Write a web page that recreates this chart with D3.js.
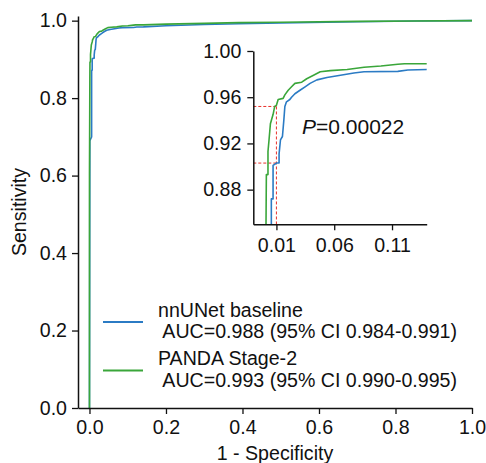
<!DOCTYPE html>
<html>
<head>
<meta charset="utf-8">
<script src="https://cdn.jsdelivr.net/npm/d3@7"></script>
<style>
  body { margin: 0; background: #fff; }
  svg text { font-family: "Liberation Sans", Arial, sans-serif; fill: #111; }
</style>
</head>
<body>
<svg id="chart" width="486" height="463"></svg>
<script>
// ROC points (1 - specificity, sensitivity)
let baseFpr = [0, 0.001, 0.0056, 0.0056, 0.0071, 0.0071, 0.010, 0.0123, 0.0123, 0.0135, 0.0152, 0.0164, 0.0173, 0.0187, 0.0216, 0.0231, 0.026, 0.0304, 0.0348, 0.0391, 0.045, 0.0537, 0.0654, 0.077, 0.0858, 0.115, 0.1237, 0.1412, 0.2, 0.3, 0.39, 0.5, 0.7, 0.85, 1.0]
let baseTpr = [0, 0.69, 0.70, 0.872, 0.872, 0.901, 0.903, 0.903, 0.911, 0.923, 0.926, 0.940, 0.952, 0.956, 0.958, 0.960, 0.963, 0.966, 0.969, 0.972, 0.975, 0.977, 0.979, 0.981, 0.982, 0.9824, 0.9836, 0.984, 0.987, 0.990, 0.992, 0.994, 0.997, 0.999, 1.0]

let pandaFpr = [0, 0, 0.001, 0.0013, 0.0027, 0.0027, 0.0036, 0.0048, 0.0062, 0.0071, 0.0085, 0.010, 0.0115, 0.0158, 0.0173, 0.0202, 0.0231, 0.026, 0.0319, 0.0362, 0.0421, 0.0479, 0.0566, 0.0712, 0.0858, 0.1004, 0.115, 0.1208, 0.1412, 0.2, 0.3, 0.39, 0.5, 0.7, 0.85, 1.0]
let pandaTpr = [0, 0.60, 0.85, 0.893, 0.893, 0.913, 0.923, 0.937, 0.942, 0.945, 0.952, 0.953, 0.958, 0.959, 0.962, 0.966, 0.969, 0.972, 0.973, 0.976, 0.979, 0.982, 0.983, 0.984, 0.986, 0.987, 0.9885, 0.989, 0.989, 0.991, 0.993, 0.995, 0.996, 0.998, 0.999, 1.0]

let seriesNames = ['nnUNet baseline', 'PANDA Stage-2']
let aucLabels = [' AUC=0.988 (95% CI 0.984-0.991)', ' AUC=0.993 (95% CI 0.990-0.995)']
let seriesColors = ['#2b7bc4', '#3aa63a']

let mainTicks = [0, 0.2, 0.4, 0.6, 0.8, 1.0]
let insetXTicks = [0.01, 0.06, 0.11]
let insetYTicks = [0.88, 0.92, 0.96, 1.00]
// operating points marked with red dashes
let cutFpr = 0.01
let cutTpr = [0.952, 0.903]
let pText = '=0.00022'

let toPts = (xs, ys) => xs.map((x, i) => [x, ys[i]])
let series = [toPts(baseFpr, baseTpr), toPts(pandaFpr, pandaTpr)]

let svg = d3.select('#chart')
let fs = 19.6

// main axes
let xscale = d3.scaleLinear().domain([-0.03, 1.0]).range([78, 472])
let yscale = d3.scaleLinear().domain([0, 1.012]).range([408, 16])

let line = d3.line().x(d => xscale(d[0])).y(d => yscale(d[1]))

series.forEach((s, i) => {
    svg.append('path')
        .attr('d', line(s))
        .style('fill', 'none')
        .style('stroke', seriesColors[i])
        .style('stroke-width', 1.6)
        .style('stroke-linejoin', 'round')
})

let xaxis = svg.append('g')
    .attr('transform', `translate(0,${yscale(0)})`)
    .call(d3.axisBottom(xscale).tickValues(mainTicks).tickSize(6).tickPadding(6).tickSizeOuter(0).tickFormat(d3.format('.1f')))
let yaxis = svg.append('g')
    .attr('transform', `translate(${xscale(-0.03)},0)`)
    .call(d3.axisLeft(yscale).tickValues(mainTicks).tickSize(6).tickPadding(5).tickSizeOuter(0).tickFormat(d3.format('.1f')))

function styleAxis(g) {
    g.select('.domain').style('stroke', '#111').style('stroke-width', 1.5)
    g.selectAll('.tick line').style('stroke', '#111').style('stroke-width', 1.3)
    g.selectAll('.tick text').style('font-size', fs + 'px').style('fill', '#111')
        .style('font-family', '"Liberation Sans", Arial, sans-serif')
}
styleAxis(xaxis)
styleAxis(yaxis)

svg.append('text')
    .attr('x', 275).attr('y', 460)
    .attr('text-anchor', 'middle')
    .style('font-size', fs + 'px')
    .text('1 - Specificity')

svg.append('text')
    .attr('transform', `translate(26,212) rotate(-90)`)
    .attr('text-anchor', 'middle')
    .style('font-size', fs + 'px')
    .text('Sensitivity')

// legend
let legY = [322, 370.5]
seriesNames.forEach((n, i) => {
    svg.append('line')
        .attr('x1', 103).attr('x2', 143)
        .attr('y1', legY[i]).attr('y2', legY[i])
        .style('stroke', seriesColors[i])
        .style('stroke-width', 2)
    svg.append('text')
        .attr('x', 158).attr('y', legY[i] - 5.5)
        .style('font-size', fs + 'px')
        .text(n)
    svg.append('text')
        .attr('x', 158).attr('y', legY[i] + 16)
        .style('font-size', fs + 'px')
        .style('white-space', 'pre')
        .attr('xml:space', 'preserve')
        .text(aucLabels[i])
})

// inset
let ix = d3.scaleLinear().domain([-0.01, 0.14]).range([253.3, 426.7])
let iy = d3.scaleLinear().domain([0.85, 1.0]).range([224.3, 51])

svg.append('clipPath').attr('id', 'insetclip')
    .append('rect')
    .attr('x', ix(-0.01)).attr('y', iy(1.0) - 2)
    .attr('width', ix(0.14) - ix(-0.01)).attr('height', iy(0.85) - iy(1.0) + 2)

let inset = svg.append('g')
let iline = d3.line().x(d => ix(d[0])).y(d => iy(d[1]))

// red dashed guides
cutTpr.forEach(t => {
    inset.append('line')
        .attr('x1', ix(-0.01)).attr('x2', ix(cutFpr))
        .attr('y1', iy(t)).attr('y2', iy(t))
        .style('stroke', '#e8302a').style('stroke-width', 1)
        .style('stroke-dasharray', '3,2')
})
inset.append('line')
    .attr('x1', ix(cutFpr)).attr('x2', ix(cutFpr))
    .attr('y1', iy(d3.max(cutTpr))).attr('y2', iy(0.85))
    .style('stroke', '#e8302a').style('stroke-width', 1)
    .style('stroke-dasharray', '3,2')

series.forEach((s, i) => {
    inset.append('path')
        .attr('d', iline(s))
        .attr('clip-path', 'url(#insetclip)')
        .style('fill', 'none')
        .style('stroke', seriesColors[i])
        .style('stroke-width', 1.6)
        .style('stroke-linejoin', 'round')
})

let ixaxis = inset.append('g')
    .attr('transform', `translate(0,${iy(0.85)})`)
    .call(d3.axisBottom(ix).tickValues(insetXTicks).tickSize(6).tickPadding(8).tickSizeOuter(0).tickFormat(d3.format('.2f')))
let iyaxis = inset.append('g')
    .attr('transform', `translate(${ix(-0.01)},0)`)
    .call(d3.axisLeft(iy).tickValues(insetYTicks).tickSize(6).tickPadding(6).tickSizeOuter(0).tickFormat(d3.format('.2f')))
styleAxis(ixaxis)
styleAxis(iyaxis)

let pt = inset.append('text')
    .attr('x', 302).attr('y', 134)
    .style('font-size', '21px')
pt.append('tspan').style('font-style', 'italic').text('P')
pt.append('tspan').text(pText)
</script>
</body>
</html>
